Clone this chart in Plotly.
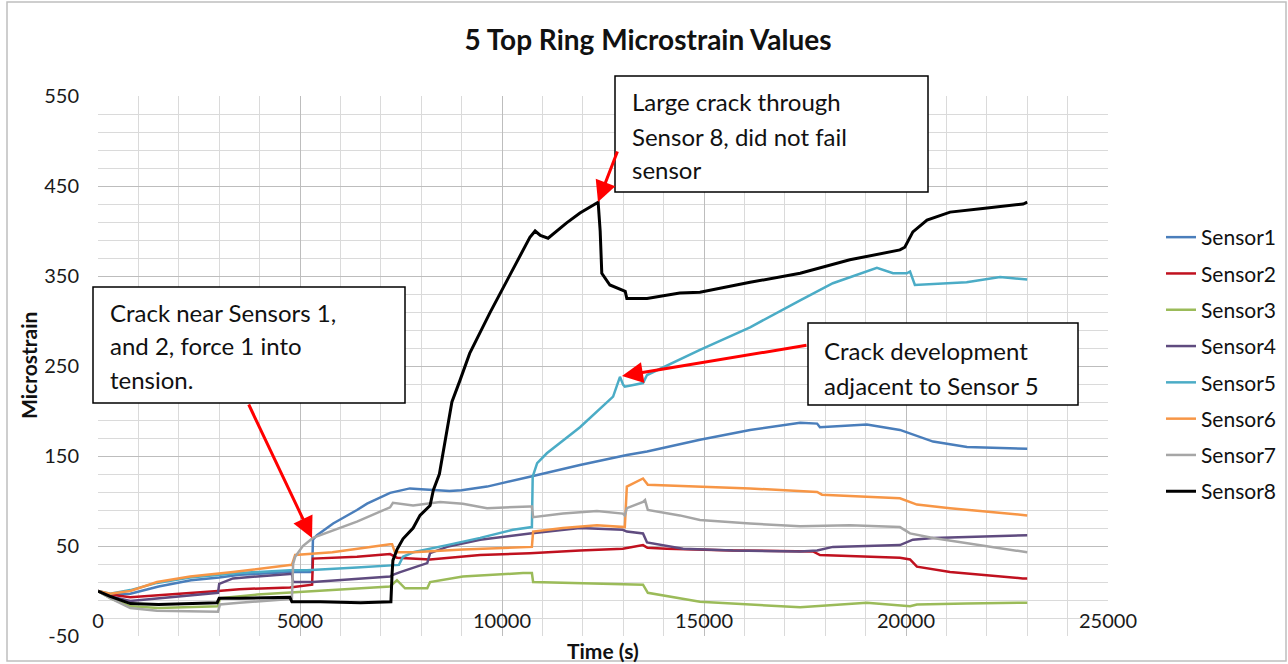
import plotly.graph_objects as go

# ---------------- data ----------------
sensor_names = ["Sensor1", "Sensor2", "Sensor3", "Sensor4", "Sensor5", "Sensor6", "Sensor7", "Sensor8"]

t1 = [0, 300, 800, 1500, 2300, 3000, 3500, 4750, 5300, 5320, 5420, 5820, 6410, 6660, 7230, 7720, 8000, 8700, 9000, 9630,
      10690, 11930, 13090, 13590, 14900, 16140, 17380, 17800, 17870, 19030, 19850, 20100, 20670, 21510, 22890, 23000]
v1 = [0, -4, -3, 5, 12, 15, 18, 21, 21, 57, 62, 75, 90, 97, 109, 114, 113, 111, 112, 116,
      127, 140, 151, 155, 168, 179, 187, 186, 182, 185, 179, 175, 166, 160, 158, 158]

t2 = [0, 300, 800, 1500, 2970, 3500, 4750, 5300, 5320, 6410, 7230, 7400, 8220, 9460, 10690, 11930, 12990, 13490, 13600,
      14080, 15720, 17700, 17870, 19850, 20100, 20270, 21090, 22890, 23000]
v2 = [0, -4, -7, -5, 0, 2, 4, 7, 36, 38, 41, 37, 35, 40, 42, 45, 47, 51, 48,
      47, 45, 44, 40, 37, 35, 27, 21, 14, 14]

t3 = [0, 300, 800, 1500, 2970, 3020, 3940, 4750, 5800, 7230, 7400, 7600, 8150, 8220, 9030, 10520, 10740, 10770, 11930,
      13490, 13610, 14400, 14900, 17380, 19030, 20100, 20270, 21500, 22890, 23000]
v3 = [0, -8, -17, -19, -17, -8, -4, -2, 1, 5, 12, 3, 3, 10, 16, 20, 20, 10, 9,
      7, -2, -8, -12, -18, -13, -17, -15, -14, -13, -13]

t4 = [0, 300, 800, 1500, 2970, 3000, 3340, 4750, 4800, 4830, 5320, 7230, 7300, 7480, 8150, 8220, 8640, 9460, 10690,
      11930, 12990, 13090, 13490, 13590, 14480, 15720, 17380, 17800, 18190, 19850, 20170, 20670, 22890, 23000]
v4 = [0, -6, -11, -8, -2, 8, 14, 19, 19, 10, 10, 16, 18, 21, 31, 42, 49, 57, 64,
      70, 68, 66, 64, 54, 47, 45, 44, 45, 49, 51, 57, 59, 62, 62]

t5 = [0, 300, 800, 1460, 2280, 3500, 4750, 5170, 6410, 7230, 7450, 7550, 7800, 8640, 9460, 10270, 10740, 10760, 10870,
      11110, 11930, 12750, 12920, 13000, 13040, 13490, 13590, 14900, 16140, 17380, 18190, 19280, 19680, 20020, 20100,
      20220, 21500, 22330, 22900, 23000]
v5 = [0, -3, 1, 9, 15, 20, 23, 23, 26, 28, 29, 38, 43, 51, 59, 68, 71, 127, 142,
      153, 182, 216, 238, 229, 227, 231, 240, 268, 293, 323, 342, 359, 353, 353, 355,
      340, 343, 349, 346, 346]

t6 = [0, 300, 800, 1460, 2280, 3340, 4750, 4800, 4880, 5800, 7230, 7280, 7350, 7800, 9030, 10690, 10740, 10770, 11510,
      12350, 12990, 13040, 13090, 13490, 13610, 14900, 16140, 17800, 17920, 19850, 20270, 21090, 22890, 23000]
v6 = [0, -3, 0, 10, 16, 21, 29, 29, 40, 43, 52, 52, 43, 43, 46, 49, 49, 66, 70,
      73, 71, 71, 116, 125, 118, 116, 114, 110, 107, 103, 96, 92, 84, 84]

t7 = [0, 300, 800, 1460, 2970, 3020, 3500, 4750, 4800, 4830, 4880, 5070, 5320, 6410, 7230, 7300, 7800, 8470, 9030,
      9630, 10690, 10740, 10770, 11510, 12350, 12990, 13040, 13090, 13490, 13540, 13610, 14400, 14900, 16140, 17380,
      18610, 19850, 20100, 20670, 21510, 22890, 23000]
v7 = [0, -8, -19, -22, -23, -15, -13, -9, -8, 30, 38, 50, 59, 77, 93, 98, 95, 99, 97,
      92, 94, 94, 82, 86, 89, 86, 84, 92, 99, 101, 90, 84, 79, 75, 72,
      73, 71, 64, 59, 53, 43, 43]

t8 = [0, 300, 800, 1500, 2950, 3000, 3500, 4750, 4800, 5500, 6500, 7250, 7280, 7300, 7400, 7550, 7800, 7970, 8220,
      8300, 8450, 8540, 8640, 8760, 8960, 9200, 9700, 10270, 10690, 10820, 10950, 11140, 11600, 11930, 12380, 12430,
      12470, 12670, 12990, 13050, 13090, 13590, 14400, 14900, 16140, 17380, 18610, 19850, 19970, 20170, 20520, 21090,
      21900, 22900, 23000]
v8 = [0, -6, -14, -15, -13, -8, -8, -7, -12, -12, -13, -12, 20, 34, 46, 58, 70, 84, 95,
      112, 130, 152, 180, 210, 234, 264, 309, 357, 393, 400, 395, 392, 409, 420, 432, 400,
      353, 340, 334, 333, 325, 325, 331, 332, 343, 353, 368, 379, 382, 399, 412, 421,
      425, 430, 432]

times = [t1, t2, t3, t4, t5, t6, t7, t8]
values = [v1, v2, v3, v4, v5, v6, v7, v8]
colors = ["#4A7EBB", "#C0111F", "#9BBB59", "#5F4B7F", "#4BACC6", "#F79646", "#A6A6A6", "#000000"]
widths = [2.5, 2.5, 2.5, 2.5, 2.5, 2.5, 2.5, 3]

x_ticks = [0, 5000, 10000, 15000, 20000, 25000]
y_ticks = [-50, 50, 150, 250, 350, 450, 550]

# annotation text boxes
box_texts = [
    ["Large crack through", "Sensor 8, did not fail", "sensor"],
    ["Crack near Sensors 1,", "and 2, force 1 into", "tension."],
    ["Crack development", "adjacent to Sensor 5"],
]

FONT = "Lato, 'Open Sans', sans-serif"

fig = go.Figure()
for name, t, v, c, w in zip(sensor_names, times, values, colors, widths):
    fig.add_trace(go.Scatter(x=t, y=v, mode="lines", name=name, legendgroup=name,
                             line=dict(color=c, width=w)))

# ---- layout geometry (pixels of the 1288x664 picture) ----
L, R, T, B = 98, 1108, 96, 636
W, H = R - L, B - T


def px(xp):
    return (xp - L) / W


def py(yp):
    return (B - yp) / H


shapes = []
annotations = []

# chart area border
shapes.append(dict(type="rect", xref="paper", yref="paper", x0=px(7), x1=px(1286), y0=py(661), y1=py(2),
                   line=dict(color="#BFBFBF", width=1.5), layer="below"))

# text boxes: (left, right, top, bottom, text_x, line_centres)
box_geo = [
    (615, 928, 76, 192, 630, [101, 136, 169]),
    (93, 405, 287, 403, 108, [312, 345, 379]),
    (808, 1078, 323, 405, 822, [350, 385]),
]
for (bl, br, bt, bb, tx, ys), lines in zip(box_geo, box_texts):
    shapes.append(dict(type="rect", xref="paper", yref="paper", x0=px(bl), x1=px(br), y0=py(bb), y1=py(bt),
                       fillcolor="white", line=dict(color="black", width=1.5), layer="above"))
    for yy, txt in zip(ys, lines):
        annotations.append(dict(xref="paper", yref="paper", x=px(tx), y=py(yy), xanchor="left", yanchor="middle",
                                text=txt, showarrow=False, font=dict(family=FONT, size=24, color="#111111")))


# red arrows (tip and tail given in picture pixels, converted to data units)
def dx(xp):
    return (xp - L) / W * 25000


def dy(yp):
    return 550 - (yp - T) / H * 600


arrows = [((598, 202), (618, 150)), ((312, 538), (248, 403)), ((622, 376), (808, 345))]
for (tipx, tipy), (tailx, taily) in arrows:
    annotations.append(dict(x=dx(tipx), y=dy(tipy), ax=dx(tailx), ay=dy(taily), xref="x", yref="y",
                            axref="x", ayref="y", text="", showarrow=True, arrowhead=2, arrowsize=1.4,
                            arrowwidth=3, arrowcolor="#FF0000", standoff=0))

# axis titles
annotations.append(dict(xref="paper", yref="paper", x=px(603), y=py(650), xanchor="center", yanchor="middle",
                        text="<b>Time (s)</b>", showarrow=False, font=dict(family=FONT, size=21, color="#111111")))
annotations.append(dict(xref="paper", yref="paper", x=px(28), y=py(366), xanchor="center", yanchor="middle",
                        text="<b>Microstrain</b>", textangle=-90, showarrow=False,
                        font=dict(family=FONT, size=21, color="#111111")))

fig.update_layout(
    width=1288, height=664,
    margin=dict(l=L, r=1288 - R, t=T, b=664 - B, autoexpand=False),
    paper_bgcolor="white", plot_bgcolor="white",
    font=dict(family=FONT, color="#1a1a1a"),
    title=dict(text="<b>5 Top Ring Microstrain Values</b>", x=648 / 1288, xanchor="center",
               y=1 - 40 / 664, yanchor="middle", font=dict(family=FONT, size=28, color="#111111")),
    xaxis=dict(range=[0, 25000], tickmode="array", tickvals=x_ticks, ticktext=[str(v) for v in x_ticks],
               showgrid=True, gridcolor="#BDBDBD", gridwidth=1, zeroline=False, showline=False,
               ticks="", ticklabelstandoff=-29, tickfont=dict(family=FONT, size=20, color="#1a1a1a"),
               minor=dict(dtick=1000, tick0=0, showgrid=True, gridcolor="#DADADA", gridwidth=1),
               automargin=False),
    yaxis=dict(range=[-50, 550], tickmode="array", tickvals=y_ticks, ticktext=[str(v) for v in y_ticks],
               showgrid=True, gridcolor="#BDBDBD", gridwidth=1, zeroline=False, showline=False,
               ticks="", ticklabelstandoff=18, tickfont=dict(family=FONT, size=20, color="#1a1a1a"),
               minor=dict(dtick=20, tick0=-50, showgrid=True, gridcolor="#DADADA", gridwidth=1),
               automargin=False),
    legend=dict(x=px(1161), xanchor="left", y=py(217), yanchor="top", traceorder="grouped", tracegroupgap=6,
                font=dict(family=FONT, size=21, color="#111111"), bgcolor="rgba(0,0,0,0)", borderwidth=0),
    shapes=shapes,
    annotations=annotations,
    showlegend=True,
)

fig.write_html("out.html", config={"displayModeBar": False}, post_script="document.body.style.margin='0';")
